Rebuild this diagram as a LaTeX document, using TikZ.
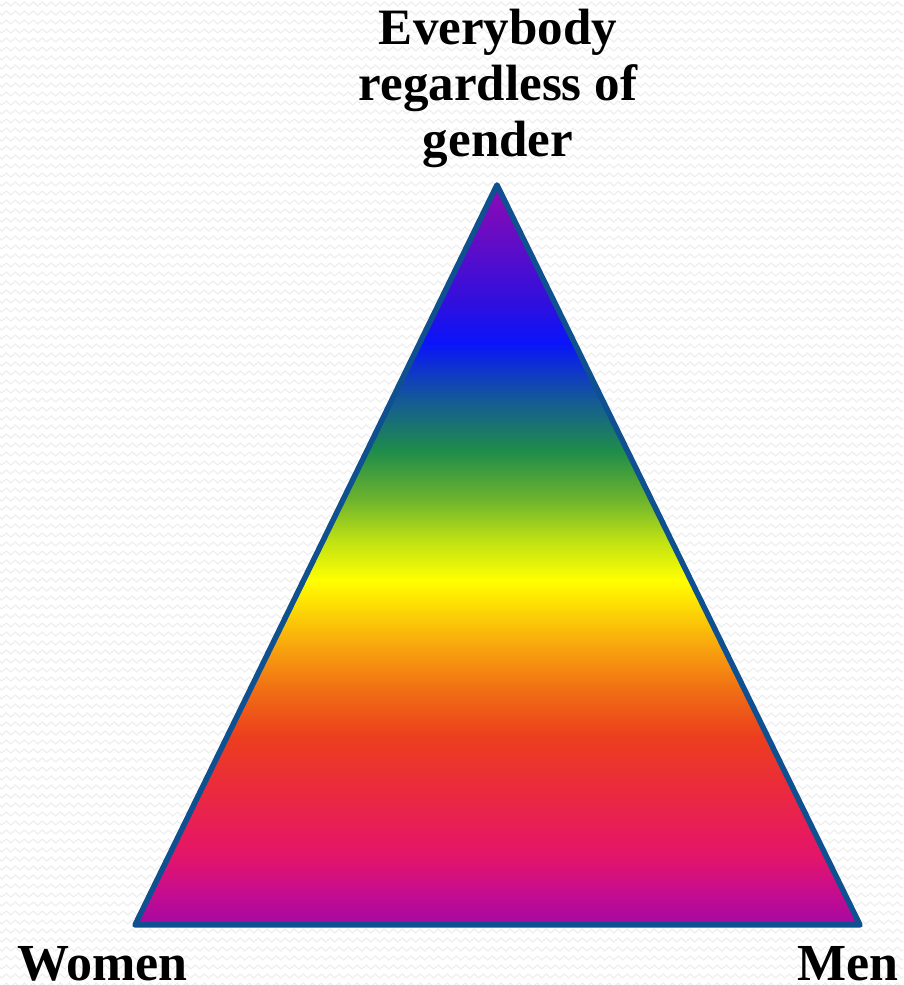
\documentclass[tikz,border=0pt]{standalone}
\usepackage{fontspec}
\setmainfont{Liberation Serif}
\usetikzlibrary{decorations.pathmorphing}
\definecolor{c00}{RGB}{165,10,165}
\definecolor{c01}{RGB}{175,10,155}
\definecolor{c02}{RGB}{195,12,145}
\definecolor{c03}{RGB}{225,20,110}
\definecolor{c04}{RGB}{230,25,95}
\definecolor{c05}{RGB}{235,42,62}
\definecolor{c06}{RGB}{236,62,30}
\definecolor{c07}{RGB}{240,110,20}
\definecolor{c08}{RGB}{248,160,15}
\definecolor{c09}{RGB}{252,215,5}
\definecolor{c10}{RGB}{255,255,0}
\definecolor{c11}{RGB}{190,225,20}
\definecolor{c12}{RGB}{110,180,45}
\definecolor{c13}{RGB}{30,140,75}
\definecolor{c14}{RGB}{20,90,150}
\definecolor{c15}{RGB}{10,20,250}
\definecolor{c16}{RGB}{50,15,220}
\definecolor{c17}{RGB}{140,10,180}
\definecolor{edgeblue}{RGB}{15,80,145}
\definecolor{bgzig}{RGB}{238,238,238}
\pgfdeclareverticalshading{rainbow}{100bp}{
color(0bp)=(c00); color(25bp)=(c00); color(25.68bp)=(c01); color(27.03bp)=(c02);
color(29.39bp)=(c03); color(30.74bp)=(c04); color(34.12bp)=(c05); color(37.70bp)=(c06);
color(40.88bp)=(c07); color(43.58bp)=(c08); color(46.28bp)=(c09); color(48.31bp)=(c10);
color(51.01bp)=(c11); color(53.72bp)=(c12); color(57.09bp)=(c13); color(60.47bp)=(c14);
color(64.32bp)=(c15); color(67.23bp)=(c16); color(74.66bp)=(c17); color(75bp)=(c17);
color(100bp)=(c17)}
\tikzset{
  bgline/.style={draw=bgzig, line width=1.1pt, decorate,
    decoration={zigzag, segment length=9pt, amplitude=2pt}},
  tri/.style={draw=edgeblue, line width=5.5pt, line join=round, shading=rainbow},
  toplabel/.style={font=\bfseries\fontsize{51}{56}\selectfont, align=center, inner sep=0pt},
  cornerlabel/.style={font=\bfseries\fontsize{52}{60}\selectfont, inner sep=0pt}
}
\begin{document}
\begin{tikzpicture}[x=1pt,y=1pt]
\useasboundingbox (0,0) rectangle (903,985);
\fill[white] (0,0) rectangle (903,985);
\begin{scope}
\clip (0,0) rectangle (903,985);
\foreach \r in {0,...,110} {
  \draw[bgline] (-5,985-4-9*\r) -- (910,985-4-9*\r);
}
\end{scope}
\coordinate (apex) at (497,800);
\coordinate (bl) at (135,60);
\coordinate (br) at (860,60);
\path[tri] (apex) -- (br) -- (bl) -- cycle;
\node[toplabel, anchor=base] (everyone) at (498,828) {Everybody\\regardless of\\gender};
\node[cornerlabel, anchor=base west] (women) at (17,5) {Women};
\node[cornerlabel, anchor=base east] (men) at (899,5) {Men};
\end{tikzpicture}
\end{document}
